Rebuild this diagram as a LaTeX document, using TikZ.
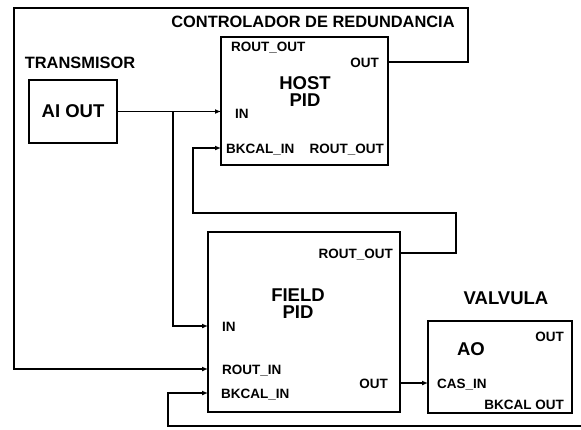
\documentclass[tikz,border=0pt]{standalone}
\usepackage{fontspec}
\setmainfont{Liberation Sans}
\usetikzlibrary{arrows.meta,positioning}

\begin{document}
\begin{tikzpicture}[
  x=1pt, y=-1pt,
  block/.style={draw, line width=1.6pt, anchor=north west, inner sep=0pt, outer sep=0pt},
  title/.style={font=\fontsize{18.5}{17}\selectfont\bfseries, align=center, inner sep=0pt},
  tag/.style={font=\fontsize{16.4}{18}\selectfont\bfseries, inner sep=0pt},
  port/.style={font=\fontsize{13.5}{15}\selectfont\bfseries, inner sep=0pt, text height=10pt, text depth=0pt},
  wire/.style={line width=1.6pt},
  arrow/.style={wire, -{Latex[length=6pt,width=5pt]}}
]
\useasboundingbox (0,0) rectangle (581,429);

\node[block, minimum width=88pt, minimum height=63pt, title] (aiout) at (29,80) {AI OUT};
\node[block, minimum width=167pt, minimum height=128pt] (host) at (221,37) {};
\node[block, minimum width=192pt, minimum height=180pt] (field) at (208,232) {};
\node[block, minimum width=144pt, minimum height=92pt] (ao) at (428,321) {};

\node[tag] (transmisor) at (80,63) {TRANSMISOR};
\node[tag] (redundancia) at (313,22) {CONTROLADOR DE REDUNDANCIA};
\node[title] (valvula) at (506,298) {VALVULA};

\node[port, anchor=west] (hroutout) at (231,46) {ROUT\_OUT};
\node[port, anchor=east] (hout) at (379,62) {OUT};
\node[title] (hname) at (305,92) {HOST\\PID};
\node[port, anchor=west] (hin) at (235,113) {IN};
\node[port, anchor=west] (hbkcal) at (226,148) {BKCAL\_IN};
\node[port, anchor=east] (hroutback) at (384,148) {ROUT\_OUT};

\node[port, anchor=east] (froutout) at (393,253) {ROUT\_OUT};
\node[title] (fname) at (298,304) {FIELD\\PID};
\node[port, anchor=west] (fin) at (222,326) {IN};
\node[port, anchor=west] (froutin) at (222,369) {ROUT\_IN};
\node[port, anchor=west] (fbkcal) at (221,393) {BKCAL\_IN};
\node[port, anchor=east] (fout) at (388,383) {OUT};

\node[title] (aoname) at (471,349) {AO};
\node[port, anchor=east] (aoout) at (564,336) {OUT};
\node[port, anchor=west] (aocas) at (437,383) {CAS\_IN};
\node[port, anchor=east] (aobkcal) at (564,404) {BKCAL OUT};

\coordinate (split) at (173,111.5);
\coordinate (topright) at (468,8);
\coordinate (topleft) at (14,8);
\coordinate (loopright) at (456,213);
\coordinate (loopleft) at (193,213);
\coordinate (edge) at (581,426);
\coordinate (bottomleft) at (168,426);

\draw[arrow] (aiout.east) -- (aiout.east -| host.west);
\draw[arrow] (split) |- (field.west |- fin);
\draw[arrow] (host.east |- hout) -| (topright) -- (topleft) |- (field.west |- froutin);
\draw[arrow] (field.east |- froutout) -| (loopright) -- (loopleft) |- (host.west |- hbkcal);
\draw[arrow] (field.east |- fout) -- (ao.west |- fout);
\draw[arrow] (edge) -- (bottomleft) |- (field.west |- fbkcal);
\end{tikzpicture}
\end{document}
